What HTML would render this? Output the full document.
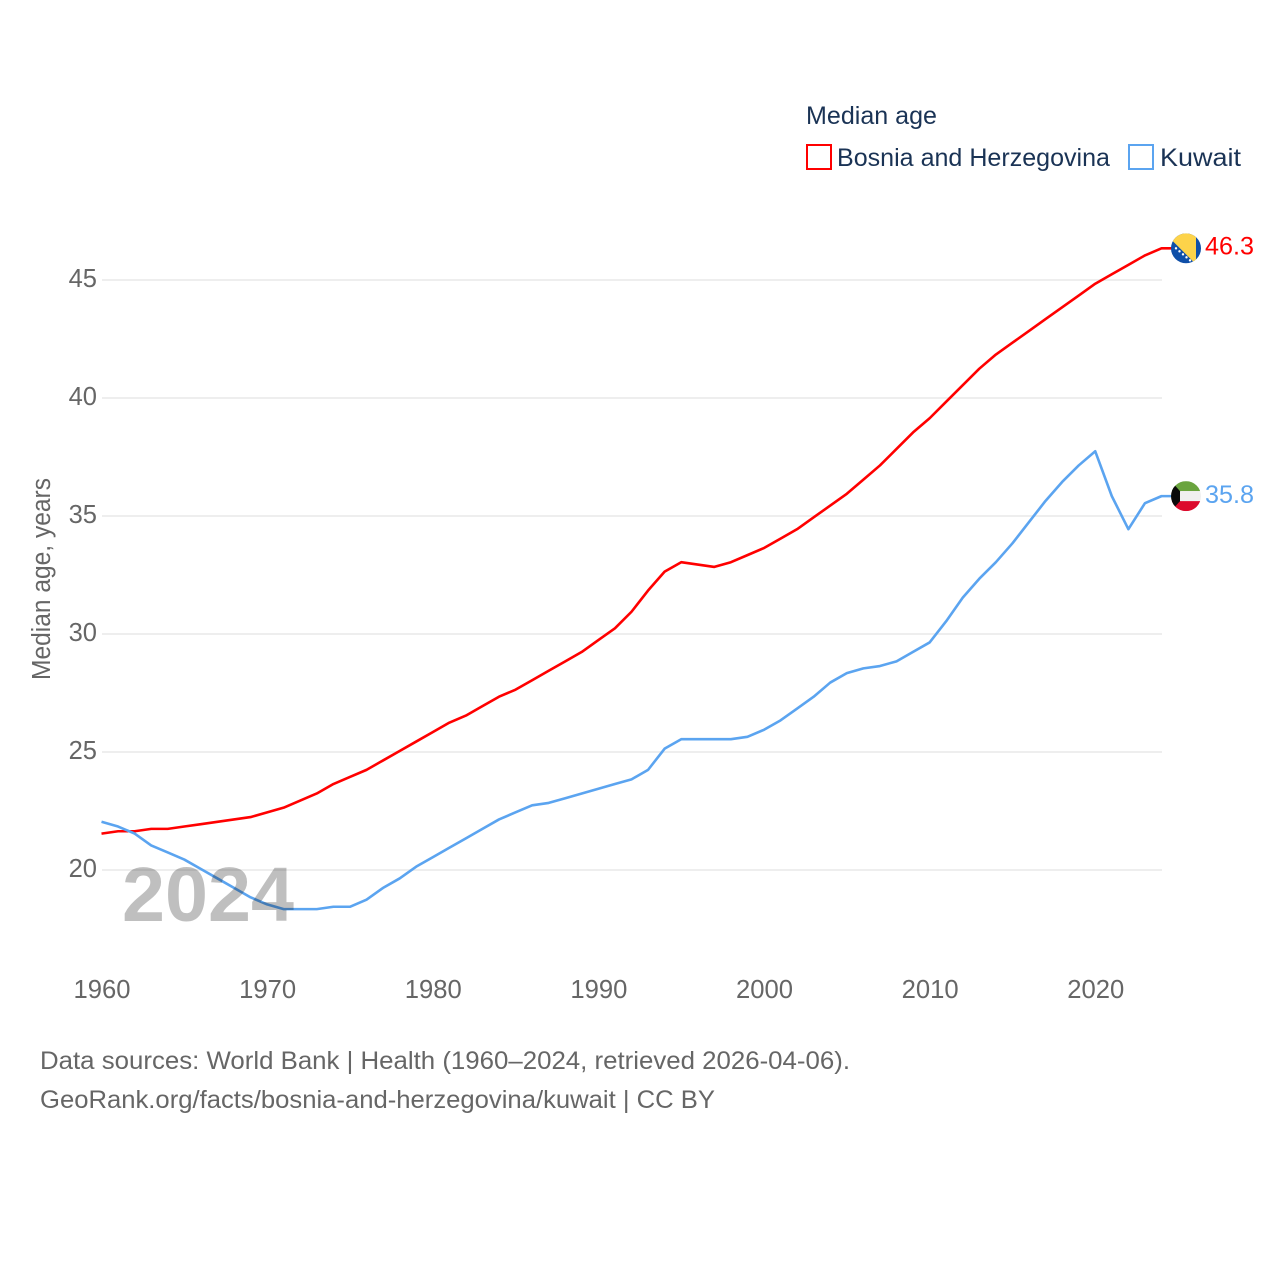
<!DOCTYPE html>
<html lang="en">
<head>
<meta charset="utf-8">
<title>Median age: Bosnia and Herzegovina and Kuwait</title>
<style>
html,body{margin:0;padding:0;background:#fff;}
svg{display:block;font-family:"Liberation Sans",sans-serif;}
.tick{font-size:25.5px;fill:#666;}
.legend{font-size:25px;fill:#1a3355;}
.foot{font-size:25px;fill:#666;}
</style>
</head>
<body>
<svg id="chart" xmlns="http://www.w3.org/2000/svg" width="1280" height="1280" viewBox="0 0 1280 1280">
  <defs>
    <clipPath id="flag-clip"><circle cx="0" cy="0" r="15"></circle></clipPath>
  </defs>
  <g id="grid"></g>
  <g id="y-ticks"></g>
  <g id="x-ticks"></g>
  <text class="tick" transform="translate(50,680) rotate(-90)" textLength="202" lengthAdjust="spacingAndGlyphs">Median age, years</text>
  <g id="series" transform="translate(-0.5,-1)"></g>
  <text x="122" y="921" font-size="77" font-weight="700" fill="#000" fill-opacity="0.25" textLength="172" lengthAdjust="spacingAndGlyphs">2024</text>

  <g id="flag-bih">
    <g clip-path="url(#flag-clip)">
      <rect x="-15" y="-15" width="30" height="30" fill="#0f4fa8"></rect>
      <polygon points="-15,-9 -15,-15 10,-15 10,14 8,14" fill="#fdd34a"></polygon>
      <g fill="#fff">
        <circle cx="-10" cy="0" r="1.2"></circle><circle cx="-6.5" cy="3" r="1.2"></circle>
        <circle cx="-3" cy="6" r="1.2"></circle><circle cx="0.5" cy="9" r="1.2"></circle>
        <circle cx="4" cy="12" r="1.2"></circle>
      </g>
    </g>
  </g>
  <g id="flag-kwt">
    <g clip-path="url(#flag-clip)">
      <rect x="-15" y="-15" width="30" height="10" fill="#6aa43e"></rect>
      <rect x="-15" y="-5" width="30" height="10" fill="#f0f0f0"></rect>
      <rect x="-15" y="5" width="30" height="10" fill="#dc0a2c"></rect>
      <polygon points="-15,-15 -6,-5 -6,5 -15,15" fill="#0a0a0a"></polygon>
    </g>
  </g>
  <text id="value-bih" x="1205" font-size="25" fill="#ff0000" textLength="49" lengthAdjust="spacingAndGlyphs"></text>
  <text id="value-kwt" x="1205" font-size="25" fill="#5ba4f0" textLength="49" lengthAdjust="spacingAndGlyphs"></text>

  <g>
    <text class="legend" x="806" y="124" textLength="131" lengthAdjust="spacingAndGlyphs">Median age</text>
    <g>
      <rect x="807" y="145" width="24" height="24" fill="#fff" stroke="#ff0000" stroke-width="2"></rect>
      <text class="legend" x="837" y="166" textLength="273" lengthAdjust="spacingAndGlyphs">Bosnia and Herzegovina</text>
    </g>
    <g>
      <rect x="1129" y="145" width="24" height="24" fill="#fff" stroke="#5ba4f0" stroke-width="2"></rect>
      <text class="legend" x="1160" y="166" textLength="81" lengthAdjust="spacingAndGlyphs">Kuwait</text>
    </g>
  </g>

  <g>
    <text class="foot" x="40" y="1069" textLength="810" lengthAdjust="spacingAndGlyphs">Data sources: World Bank | Health (1960–2024, retrieved 2026-04-06).</text>
    <text class="foot" x="40" y="1108" textLength="675" lengthAdjust="spacingAndGlyphs">GeoRank.org/facts/bosnia-and-herzegovina/kuwait | CC BY</text>
  </g>
</svg>
<script>
const startYear = 1960;
const bosniaValues = [21.5,21.6,21.6,21.7,21.7,21.8,21.9,22.0,22.1,22.2,22.4,22.6,22.9,23.2,23.6,23.9,24.2,24.6,25.0,25.4,25.8,26.2,26.5,26.9,27.3,27.6,28.0,28.4,28.8,29.2,29.7,30.2,30.9,31.8,32.6,33.0,32.9,32.8,33.0,33.3,33.6,34.0,34.4,34.9,35.4,35.9,36.5,37.1,37.8,38.5,39.1,39.8,40.5,41.2,41.8,42.3,42.8,43.3,43.8,44.3,44.8,45.2,45.6,46.0,46.3];
const kuwaitValues = [22.0,21.8,21.5,21.0,20.7,20.4,20.0,19.6,19.2,18.8,18.5,18.3,18.3,18.3,18.4,18.4,18.7,19.2,19.6,20.1,20.5,20.9,21.3,21.7,22.1,22.4,22.7,22.8,23.0,23.2,23.4,23.6,23.8,24.2,25.1,25.5,25.5,25.5,25.5,25.6,25.9,26.3,26.8,27.3,27.9,28.3,28.5,28.6,28.8,29.2,29.6,30.5,31.5,32.3,33.0,33.8,34.7,35.6,36.4,37.1,37.7,35.8,34.4,35.5,35.8];
const yTickValues = [20,25,30,35,40,45];
const xTickValues = [1960,1970,1980,1990,2000,2010,2020];

const NS = 'http://www.w3.org/2000/svg';
function xScale(year){ return 102 + (year - 1960) * (1162 - 102) / 64; }
function yScale(v){ return 870 - (v - 20) * (870 - 280) / 25; }

const grid = document.getElementById('grid');
const yTicks = document.getElementById('y-ticks');
const xTicks = document.getElementById('x-ticks');
const series = document.getElementById('series');

yTickValues.forEach(function(v){
  const line = document.createElementNS(NS, 'line');
  
  
  line.setAttribute('x1', xScale(1960));
  line.setAttribute('x2', xScale(2024));
  line.setAttribute('y1', yScale(v));
  line.setAttribute('y2', yScale(v));
  line.setAttribute('stroke', '#eeeeee');
  line.setAttribute('stroke-width', '2');
  grid.appendChild(line);

  const label = document.createElementNS(NS, 'text');
  
  
  label.setAttribute('class', 'tick');
  label.setAttribute('x', 97);
  label.setAttribute('y', yScale(v) + 7);
  label.setAttribute('text-anchor', 'end');
  label.textContent = String(v);
  yTicks.appendChild(label);
});

xTickValues.forEach(function(year){
  const label = document.createElementNS(NS, 'text');
  
  
  label.setAttribute('class', 'tick');
  label.setAttribute('x', xScale(year));
  label.setAttribute('y', 998);
  label.setAttribute('text-anchor', 'middle');
  label.setAttribute('textLength', '57');
  label.setAttribute('lengthAdjust', 'spacingAndGlyphs');
  label.textContent = String(year);
  xTicks.appendChild(label);
});

function pathFor(values){
  const points = values.map(function(v, i){
    return (i ? 'L' : 'M') + xScale(startYear + i).toFixed(2) + ' ' + yScale(v).toFixed(2);
  });
  points.push('L' + (xScale(startYear + values.length - 1) + 10).toFixed(2) + ' ' + yScale(values[values.length - 1]).toFixed(2));
  return points.join(' ');
}

const bosniaLine = document.createElementNS(NS, 'path');


bosniaLine.setAttribute('d', pathFor(bosniaValues));
bosniaLine.setAttribute('fill', 'none');
bosniaLine.setAttribute('stroke', '#ff0000');
bosniaLine.setAttribute('stroke-width', '2.6');
bosniaLine.setAttribute('stroke-linejoin', 'round');
series.appendChild(bosniaLine);

const kuwaitLine = document.createElementNS(NS, 'path');


kuwaitLine.setAttribute('d', pathFor(kuwaitValues));
kuwaitLine.setAttribute('fill', 'none');
kuwaitLine.setAttribute('stroke', '#5ba4f0');
kuwaitLine.setAttribute('stroke-width', '2.6');
kuwaitLine.setAttribute('stroke-linejoin', 'round');
series.appendChild(kuwaitLine);

const lastBosnia = bosniaValues[bosniaValues.length - 1];
const lastKuwait = kuwaitValues[kuwaitValues.length - 1];
document.getElementById('flag-bih').setAttribute('transform', 'translate(1186,' + (yScale(lastBosnia) - 1) + ')');
document.getElementById('flag-kwt').setAttribute('transform', 'translate(1186,' + (yScale(lastKuwait) - 1) + ')');
const valueBih = document.getElementById('value-bih');
valueBih.setAttribute('y', yScale(lastBosnia) + 5);
valueBih.textContent = lastBosnia.toFixed(1);
const valueKwt = document.getElementById('value-kwt');
valueKwt.setAttribute('y', yScale(lastKuwait) + 6);
valueKwt.textContent = lastKuwait.toFixed(1);
</script>
</body>
</html>
